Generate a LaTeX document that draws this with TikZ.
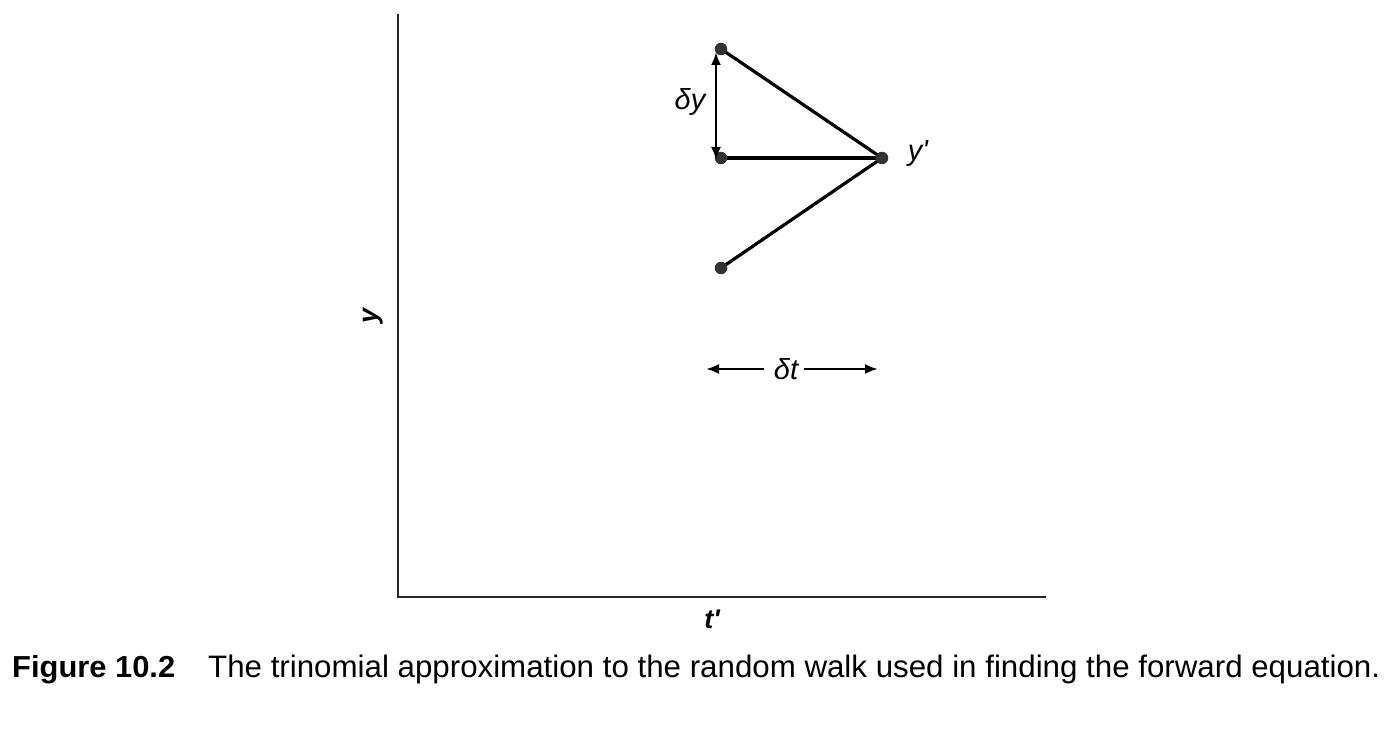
\documentclass[tikz,border=0pt]{standalone}
\usepackage{fontspec}
\usepackage{graphicx}
\setmainfont{Liberation Sans}
\usetikzlibrary{arrows.meta}
\tikzset{
  axis/.style={line width=2pt, draw=black!85},
  walk/.style={line width=3.2pt, draw=black},
  dot/.style={circle, fill=black!80, minimum size=12.5pt, inner sep=0pt},
  dim/.style={line width=2.4pt, -{Latex[length=13pt,width=10pt]}},
  lbl/.style={font=\fontsize{29}{34}\selectfont\itshape, inner sep=0pt},
  axlbl/.style={font=\fontsize{27}{32}\selectfont\bfseries\itshape, inner sep=0pt}
}
\begin{document}
\begin{tikzpicture}[x=1pt,y=-1pt]
\useasboundingbox (0,0) rectangle (1394,730);
% axes
\coordinate (O) at (398,597);
\coordinate (ytop) at (398,14);
\coordinate (xend) at (1046,597);
\draw[axis] (ytop) -- (O) -- (xend);
\node[axlbl, rotate=90] (ylab) at (373,316) {y};
\node[axlbl] (tlab) at (712,619) {t\textquotesingle};
% lattice points
\coordinate (up) at (721,49);
\coordinate (mid) at (721,158);
\coordinate (down) at (721,268);
\coordinate (start) at (882,158);
\draw[walk] (up) -- (start);
\draw[walk] (mid) -- (start);
\draw[walk] (down) -- (start);
\node[dot] (nup) at (up) {};
\node[dot] (nmid) at (mid) {};
\node[dot] (ndown) at (down) {};
\node[dot] (nstart) at (start) {};
% delta y
\coordinate (dya) at (716,107);
\draw[dim] (dya) -- (716,52);
\draw[dim] (dya) -- (716,160);
\node[lbl] (dylab) at (690,102) {δy};
\node[lbl] (yplab) at (918,154) {y\textquotesingle};
% delta t
\node[lbl] (dtlab) at (786,369) {δt};
\coordinate (dtl) at (706,369);
\coordinate (dtr) at (878,369);
\draw[dim] (764,369) -- (dtl);
\draw[dim] (804,369) -- (dtr);
% caption
\node[anchor=base west, inner sep=0pt] (capa) at (12,677) {\resizebox{163pt}{22pt}{\bfseries Figure 10.2}};
\node[anchor=base west, inner sep=0pt] (capb) at (208,677) {\resizebox{1172pt}{22.5pt}{The trinomial approximation to the random walk used in finding the forward equation.}};
\end{tikzpicture}
\end{document}
